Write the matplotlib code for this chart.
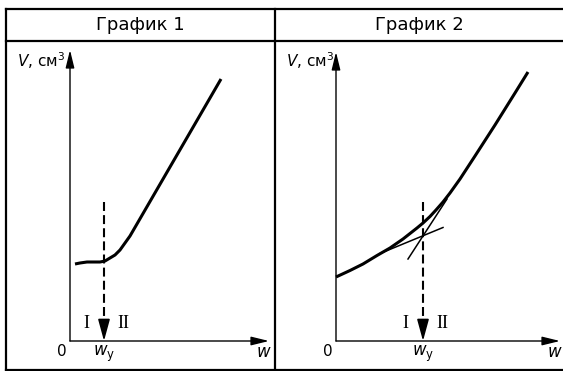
import matplotlib.pyplot as plt
from matplotlib.lines import Line2D

plt.rcParams['font.family'] = ['DejaVu Sans']
plt.rcParams['mathtext.fontset'] = 'dejavusans'

# data (arbitrary units, origin of each graph at 0,0)
titles = ['График 1', 'График 2']
y_label = r'$V$, см$^3$'

# graph 1: plateau then linear rise
w1 = [0.5, 1.0, 1.7, 2.3, 3.0, 3.5, 4.0, 4.5, 5.0, 5.5, 6.0, 15.1]
v1 = [7.7, 7.8, 7.9, 7.9, 7.9, 8.0, 8.3, 8.6, 9.1, 9.8, 10.5, 26.2]
wy1 = 3.4

# graph 2: smooth curve with two tangents
w2 = [0.0, 1.4, 2.7, 4.1, 5.4, 6.7, 8.1, 8.7, 9.4, 10.0, 10.7, 11.4, 12.4,
      13.9, 15.9, 17.9, 19.2]
v2 = [6.4, 7.05, 7.7, 8.55, 9.3, 10.2, 11.3, 11.8, 12.45, 13.1, 13.9, 14.8, 16.2,
      18.5, 21.6, 24.8, 26.9]
wy2 = 8.7
tan1_w = [4.4, 10.7]
tan1_v = [8.75, 11.35]
tan2_w = [7.2, 11.1]
tan2_v = [8.2, 14.2]

W, H = 563, 371
fig = plt.figure(figsize=(W / 100, H / 100), dpi=100)


def px_ax(x0, x1, y0, y1):
    return fig.add_axes([x0 / W, 1 - y1 / H, (x1 - x0) / W, (y1 - y0) / H])


def arrow(ax, start, tip, lw=1.0, hl=0.9, hw=0.22, ms=12):
    ax.annotate('', xy=tip, xytext=start,
                arrowprops=dict(arrowstyle=f'-|>,head_length={hl},head_width={hw}',
                                lw=lw, color='black', mutation_scale=ms,
                                shrinkA=0, shrinkB=0))


def draw_panel(ax, xlim, xmax, ymax, wy, label_x):
    ax.set_xlim(*xlim)
    ax.set_ylim(-2.8, 30.0)
    ax.axis('off')
    arrow(ax, (0, 0), (0, ymax))
    arrow(ax, (0, 0), (xmax, 0))
    # dashed drop line with arrow
    ax.plot([wy, wy], [13.9, 1.6], color='black', lw=1.5, ls=(0, (4.3, 2.0)))
    arrow(ax, (wy, 1.7), (wy, 0), lw=1.2, hl=1.1, hw=0.3, ms=12)
    ax.text(label_x, 28.0, y_label, ha='right', va='center', fontsize=11)
    ax.text(-0.8, -1.0, '0', ha='center', va='center', fontsize=11)
    ax.text(wy, -1.3, r'$w_{\mathrm{y}}$', ha='center', va='center', fontsize=12)
    ax.text(xmax - 0.5, -1.1, r'$w$', ha='center', va='center', fontsize=12)
    ax.text(wy - 1.8, 1.8, 'I', ha='center', va='center', fontsize=13,
            family='Liberation Serif')
    ax.text(wy + 1.9, 1.8, 'II', ha='center', va='center', fontsize=13,
            family='Liberation Serif')


ax1 = px_ax(6, 275, 41, 369)
draw_panel(ax1, (-6.4, 20.5), 19.9, 29.1, wy1, -0.5)
ax1.plot(w1, v1, color='black', lw=2.2, solid_capstyle='butt', solid_joinstyle='round')

ax2 = px_ax(275, 563, 41, 369)
draw_panel(ax2, (-6.1, 22.7), 22.4, 28.9, wy2, -0.2)
ax2.plot(w2, v2, color='black', lw=2.2, solid_capstyle='butt', solid_joinstyle='round')
ax2.plot(tan1_w, tan1_v, color='black', lw=1.1)
ax2.plot(tan2_w, tan2_v, color='black', lw=1.1)

# table frame
lw_t = 1.6
for (x0, y0, x1, y1) in [(6, 9, 563, 9), (6, 41, 563, 41), (6, 369.5, 563, 369.5),
                         (6, 9, 6, 369.5), (275, 9, 275, 369.5)]:
    fig.add_artist(Line2D([x0 / W, x1 / W], [1 - y0 / H, 1 - y1 / H],
                          color='black', lw=lw_t, solid_capstyle='projecting'))

fig.text(140 / W, 1 - 25 / H, titles[0], ha='center', va='center', fontsize=13)
fig.text(419 / W, 1 - 25 / H, titles[1], ha='center', va='center', fontsize=13)

fig.savefig('out.png', dpi=100)
